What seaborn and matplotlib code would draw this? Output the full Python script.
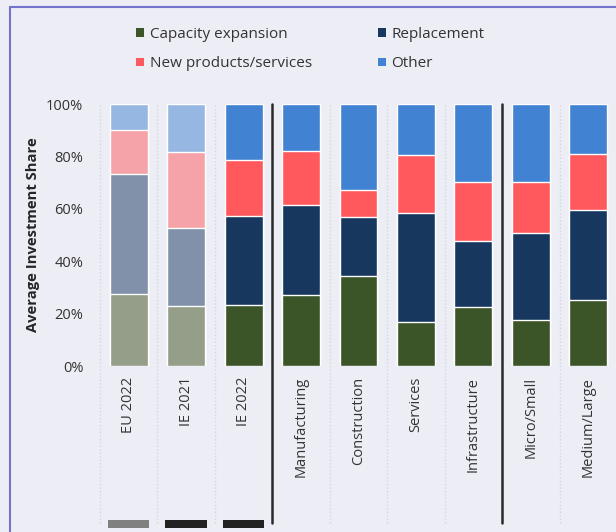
import matplotlib
matplotlib.use("Agg")
import matplotlib.pyplot as plt
from matplotlib.patches import Patch, Rectangle
from matplotlib.lines import Line2D
import seaborn as sns
import pandas as pd
import numpy as np

categories = ["EU 2022", "IE 2021", "IE 2022", "Manufacturing", "Construction",
              "Services", "Infrastructure", "Micro/Small", "Medium/Large"]
capacity = [27.5, 23.0, 23.2, 27.1, 34.4, 16.7, 22.4, 17.6, 25.3]
replacement = [45.9, 29.7, 34.1, 34.5, 22.6, 41.8, 25.2, 33.2, 34.3]
new_products = [16.5, 28.8, 21.2, 20.3, 10.3, 22.0, 22.8, 19.3, 21.5]
other = [10.1, 18.5, 21.5, 18.1, 32.7, 19.5, 29.6, 29.9, 18.9]
series_names = ["Capacity expansion", "Replacement", "New products/services", "Other"]
yticks = [0, 20, 40, 60, 80, 100]
ytick_labels = ["0%", "20%", "40%", "60%", "80%", "100%"]
faded = ["EU 2022", "IE 2021"]
marker_colors = {"EU 2022": "#808080", "IE 2021": "#222222", "IE 2022": "#222222"}
separators_after = ["IE 2022", "Infrastructure"]

colors = {"Capacity expansion": "#3B5428", "Replacement": "#17375F",
          "New products/services": "#FF595E", "Other": "#4182D2"}
faded_colors = {"Capacity expansion": "#949E89", "Replacement": "#8091A9",
                "New products/services": "#F5A3A8", "Other": "#97B7E3"}

sns.set_theme(style="white")
plt.rcParams["font.family"] = ["Open Sans", "DejaVu Sans"]
BG = "#EDEDF5"

df = pd.DataFrame({"cat": categories, "Capacity expansion": capacity,
                   "Replacement": replacement, "New products/services": new_products,
                   "Other": other})
cum = df[series_names].cumsum(axis=1)
for s in series_names:
    df["cum_" + s] = cum[s]

fig = plt.figure(figsize=(6.16, 5.32), dpi=100, facecolor=BG)
W, H = 616, 532
ax = fig.add_axes([100 / W, 1 - 366 / H, 517 / W, 262 / H])
ax.set_facecolor(BG)

for s in reversed(series_names):
    pal = {c: (faded_colors[s] if c in faded else colors[s]) for c in categories}
    sns.barplot(data=df, x="cat", y="cum_" + s, hue="cat", palette=pal, order=categories,
                width=0.66, edgecolor="white", linewidth=1.0, saturation=1,
                legend=False, ax=ax, zorder=3)

ax.set_ylim(0, 100)
ax.set_xlim(-0.5, len(categories) - 0.5)
ax.set_yticks(yticks)
ax.set_yticklabels(ytick_labels)
ax.set_xlabel("")
ax.set_ylabel("Average Investment Share", fontsize=10.6, fontweight="bold",
              color="#262626")
ax.yaxis.set_label_coords((40 - 100) / 517, 0.5)
ax.tick_params(axis="y", length=0, pad=12, labelsize=10.5, labelcolor="#333333")
ax.tick_params(axis="x", length=0, pad=8, labelsize=10.5, labelcolor="#333333")
ax.set_xticks(range(len(categories)))
ax.set_xticklabels(categories, rotation=90, va="top")
for sp in ax.spines.values():
    sp.set_visible(False)

ymin_ext = (366 - 523) / 262
sep_idx = [categories.index(c) + 0.5 for c in separators_after]
for b in np.arange(-0.5, len(categories) - 0.5, 1.0):
    if b in sep_idx:
        ax.axvline(b, ymin=ymin_ext, ymax=1, color="#2a2a2a", lw=1.8, clip_on=False, zorder=4)
    else:
        ax.axvline(b, ymin=ymin_ext, ymax=1, color="#D6D6DE", lw=1.0, ls=(0, (1, 1.5)),
                   clip_on=False, zorder=1)

trans = ax.get_xaxis_transform()
for c, col in marker_colors.items():
    i = categories.index(c)
    ax.add_patch(Rectangle((i - 0.36, (366 - 528) / 262), 0.72, 8 / 262, transform=trans,
                           facecolor=col, edgecolor="none", clip_on=False))

handles = [Patch(facecolor=colors[s], edgecolor="none") for s in series_names]
order = [0, 2, 1, 3]
leg = fig.legend([handles[i] for i in order], [series_names[i] for i in order],
                 loc="upper left", bbox_to_anchor=(136 / W, 1 - 27 / H), ncol=2,
                 frameon=False, fontsize=11, handlelength=0.5, handleheight=0.5,
                 handletextpad=0.4, columnspacing=4.32, labelspacing=0.94,
                 borderpad=0, borderaxespad=0)
for t in leg.get_texts():
    t.set_color("#333333")

fx = 10 / W
fy = 1 - 7 / H
fig.add_artist(Line2D([fx, fx], [0, fy], transform=fig.transFigure, color="#7474CC", lw=1.5))
fig.add_artist(Line2D([fx, 1], [fy, fy], transform=fig.transFigure, color="#7474CC", lw=1.5))

fig.savefig("out.png", dpi=100, facecolor=BG)
